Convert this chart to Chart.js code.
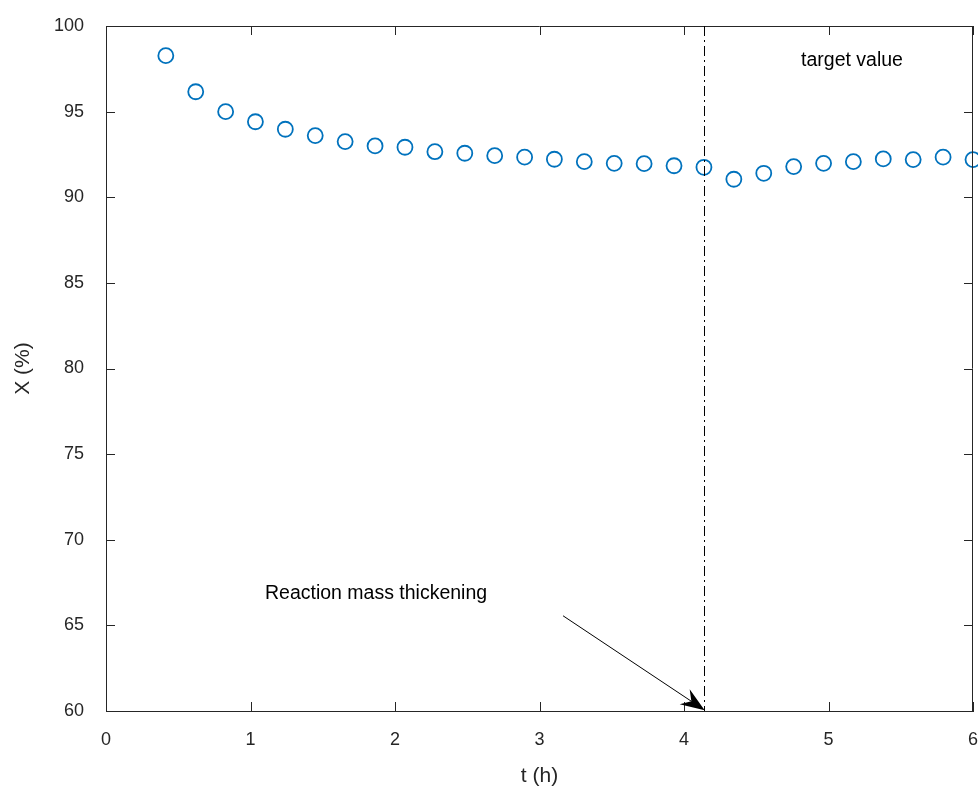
<!DOCTYPE html>
<html>
<head>
<meta charset="utf-8">
<script src="https://cdn.jsdelivr.net/npm/chart.js@4.4.1/dist/chart.umd.min.js"></script>
<style>
  html, body { margin: 0; padding: 0; background: #fff; }
  #wrap { width: 978px; height: 793px; }
</style>
</head>
<body>
<div id="wrap"><canvas id="myChart" width="978" height="793"></canvas></div>
<script>
// time (h) and conversion X (%)
const timeH = [0.414, 0.621, 0.828, 1.034, 1.241, 1.448, 1.655, 1.862, 2.069, 2.276,
  2.483, 2.690, 2.897, 3.103, 3.310, 3.517, 3.724, 3.931, 4.138, 4.345,
  4.552, 4.759, 4.966, 5.172, 5.379, 5.586, 5.793, 6.000];
const conversion = [98.27, 96.16, 95.00, 94.41, 93.97, 93.60, 93.25, 93.00, 92.92, 92.66,
  92.57, 92.43, 92.34, 92.22, 92.08, 91.98, 91.96, 91.84, 91.75, 91.05,
  91.40, 91.79, 91.98, 92.08, 92.24, 92.20, 92.34, 92.20];

const thickeningTime = 4.14;
const arrowFrom = { x: 3.163, y: 65.56 };
const arrowTo = { x: 4.143, y: 60.05 };
const notes = [
  { text: 'Reaction mass thickening', x: 1.10, y: 66.84 },
  { text: 'target value', x: 4.81, y: 98.0 }
];

const FONT = '"Liberation Sans", Arial, sans-serif';
const INK = '#262626';

const points = timeH.map((t, i) => ({ x: t, y: conversion[i] }));

// box, inward ticks, dash-dot marker line, arrow and text notes
const extras = {
  id: 'extras',
  afterDraw(chart) {
    const ctx = chart.ctx;
    const xs = chart.scales.x;
    const ys = chart.scales.y;
    const a = chart.chartArea;
    ctx.save();
    ctx.strokeStyle = INK;
    ctx.lineWidth = 1;
    ctx.beginPath();
    ctx.moveTo(a.left, a.top + 0.5);
    ctx.lineTo(a.right, a.top + 0.5);
    ctx.moveTo(a.right - 0.5, a.top);
    ctx.lineTo(a.right - 0.5, a.bottom);
    const len = 9;
    xs.ticks.forEach(tk => {
      const px = Math.round(xs.getPixelForValue(tk.value)) + 0.5;
      ctx.moveTo(px, a.bottom); ctx.lineTo(px, a.bottom - len);
      ctx.moveTo(px, a.top); ctx.lineTo(px, a.top + len);
    });
    ys.ticks.forEach(tk => {
      const py = Math.round(ys.getPixelForValue(tk.value)) + 0.5;
      ctx.moveTo(a.left, py); ctx.lineTo(a.left + len, py);
      ctx.moveTo(a.right, py); ctx.lineTo(a.right - len, py);
    });
    ctx.stroke();

    // dash-dot line
    const vx = Math.round(xs.getPixelForValue(thickeningTime)) + 0.5;
    ctx.strokeStyle = '#000';
    ctx.setLineDash([10, 4, 2, 4]);
    ctx.beginPath();
    ctx.moveTo(vx, a.top);
    ctx.lineTo(vx, a.bottom);
    ctx.stroke();
    ctx.setLineDash([]);

    // arrow
    const x0 = xs.getPixelForValue(arrowFrom.x), y0 = ys.getPixelForValue(arrowFrom.y);
    const x1 = xs.getPixelForValue(arrowTo.x), y1 = ys.getPixelForValue(arrowTo.y);
    const ang = Math.atan2(y1 - y0, x1 - x0);
    const c = Math.cos(ang), s = Math.sin(ang);
    const hl = 24, hw = 9, notch = 8;
    const bx = x1 - hl * c, by = y1 - hl * s;
    ctx.beginPath();
    ctx.moveTo(x0, y0);
    ctx.lineTo(bx + notch * c, by + notch * s);
    ctx.stroke();
    ctx.fillStyle = '#000';
    ctx.beginPath();
    ctx.moveTo(x1, y1);
    ctx.lineTo(bx - s * hw, by + c * hw);
    ctx.lineTo(bx + notch * c, by + notch * s);
    ctx.lineTo(bx + s * hw, by - c * hw);
    ctx.closePath();
    ctx.fill();

    // notes
    ctx.fillStyle = '#000';
    ctx.font = '19.5px ' + FONT;
    ctx.textBaseline = 'middle';
    ctx.textAlign = 'left';
    notes.forEach(n => {
      ctx.fillText(n.text, xs.getPixelForValue(n.x), ys.getPixelForValue(n.y));
    });
    ctx.restore();
  }
};

const ctxM = document.getElementById('myChart').getContext('2d');

const config = {
  type: 'scatter',
  data: {
    datasets: [{
      data: points,
      pointStyle: 'circle',
      pointRadius: 7.5,
      pointBorderWidth: 1.8,
      pointBorderColor: '#0072BD',
      pointBackgroundColor: 'rgba(0,0,0,0)',
      showLine: false,
      clip: false
    }]
  },
  plugins: [extras],
  options: {
    responsive: false,
    animation: false,
    layout: { autoPadding: false, padding: { top: 26, right: 5, left: 0, bottom: 0 } },
    plugins: {
      legend: { display: false },
      tooltip: { enabled: false }
    },
    scales: {
      x: {
        type: 'linear',
        min: 0,
        max: 6,
        afterFit: (s) => { s.height = 82; s.paddingLeft = 0; s.paddingRight = 0; },
        ticks: { stepSize: 1, padding: 18, color: INK, font: { family: FONT, size: 18 } },
        grid: { drawOnChartArea: false, drawTicks: false },
        border: { display: true, color: INK, width: 1 },
        title: { display: true, text: 't (h)', color: INK, padding: { top: 8 }, font: { family: FONT, size: 21 } }
      },
      y: {
        type: 'linear',
        min: 60,
        max: 100,
        afterFit: (s) => { s.width = 106; s.paddingTop = 0; s.paddingBottom = 0; },
        ticks: { stepSize: 5, padding: 22, color: INK, font: { family: FONT, size: 18 } },
        grid: { drawOnChartArea: false, drawTicks: false },
        border: { display: true, color: INK, width: 1 },
        title: { display: true, text: 'X (%)', color: INK, padding: { top: 11, bottom: 0 }, font: { family: FONT, size: 21 } }
      }
    }
  }
};
const myChart = new Chart(ctxM, config);
</script>
</body>
</html>
